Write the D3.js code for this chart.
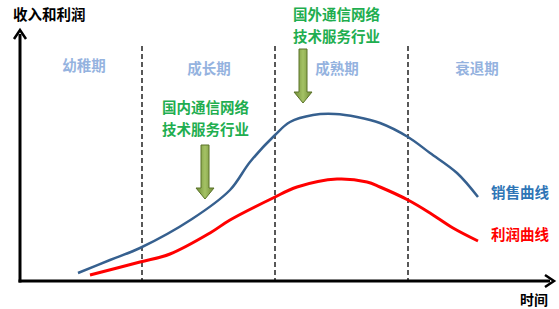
<!DOCTYPE html>
<html>
<head>
<meta charset="utf-8">
<script src="https://cdn.jsdelivr.net/npm/d3@7"></script>
<style>
  html, body { margin: 0; padding: 0; background: #fff; }
  svg { display: block; }
  text { font-family: "Noto Sans CJK SC", "Noto Sans", sans-serif; font-weight: bold; }
</style>
</head>
<body>
<div id="chart"></div>
<script>
// time runs 0..534, value 0..251 (arbitrary units)
const salesTime = [58, 90, 120, 172, 210, 230, 255, 270, 293, 315, 337, 360, 388, 410, 437, 458];
const salesValue = [8, 21, 33, 62, 91, 119, 146, 159, 166, 167, 164, 158, 144, 128, 108, 84];
const profitTime = [70, 120, 150, 190, 210, 253, 277, 317, 347, 360, 388, 410, 433, 458];
const profitValue = [6, 19, 27, 48, 61, 83, 94, 102, 99, 94, 81, 68, 53, 40];
const phaseBounds = [122, 255, 388];
const phaseNames = ['幼稚期', '成长期', '成熟期', '衰退期'];
const phaseLabelTime = [64, 189, 317, 457];
const industryNotes = [
  { lines: ['国内通信网络', '技术服务行业'], textTime: 142, arrowTime: 185, textTop: 108, arrowFrom: 145, arrowTo: 199 },
  { lines: ['国外通信网络', '技术服务行业'], textTime: 273, arrowTime: 283, textTop: 15, arrowFrom: 49, arrowTo: 103 }
];

const width = 559, height = 309;
const svg = d3.select('#chart').append('svg').attr('width', width).attr('height', height);

const x = d3.scaleLinear().domain([0, 534]).range([20, 554]);
const y = d3.scaleLinear().domain([0, 251]).range([281, 30]);

const defs = svg.append('defs');
const grad = defs.append('linearGradient').attr('id', 'arrowGrad').attr('x1', 0).attr('x2', 1);
grad.append('stop').attr('offset', '0%').attr('stop-color', '#6e8a34');
grad.append('stop').attr('offset', '50%').attr('stop-color', '#a4c265');
grad.append('stop').attr('offset', '100%').attr('stop-color', '#6e8a34');

// dashed phase separators
svg.selectAll('line.phase')
  .data(phaseBounds)
  .join('line')
  .attr('class', 'phase')
  .attr('x1', d => x(d)).attr('x2', d => x(d))
  .attr('y1', 46).attr('y2', y(0))
  .attr('stroke', '#222').attr('stroke-width', 1.5)
  .attr('stroke-dasharray', '5,3');

// phase labels
svg.selectAll('text.phaseName')
  .data(phaseNames)
  .join('text')
  .attr('class', 'phaseName')
  .attr('x', (d, i) => x(phaseLabelTime[i]))
  .attr('y', (d, i) => i === 0 ? 71 : 74)
  .attr('text-anchor', 'middle')
  .attr('font-size', '14.5px')
  .attr('fill', '#95b3df')
  .text(d => d);

// axes
const axisG = svg.append('g');
axisG.append('line')
  .attr('x1', x(0)).attr('x2', x(0))
  .attr('y1', y(0) + 1.5).attr('y2', y(251) + 4)
  .attr('stroke', '#000').attr('stroke-width', 3);
axisG.append('line')
  .attr('x1', x(0) - 1.5).attr('x2', x(534) - 4)
  .attr('y1', y(0)).attr('y2', y(0))
  .attr('stroke', '#000').attr('stroke-width', 3);
// arrowheads
axisG.append('path')
  .attr('d', `M${x(0) - 6},${y(251) + 9} L${x(0)},${y(251)} L${x(0) + 6},${y(251) + 9}`)
  .attr('fill', 'none').attr('stroke', '#000').attr('stroke-width', 2.5);
axisG.append('path')
  .attr('d', `M${x(534) - 9},${y(0) - 6} L${x(534)},${y(0)} L${x(534) - 9},${y(0) + 6}`)
  .attr('fill', 'none').attr('stroke', '#000').attr('stroke-width', 2.5);

svg.append('text')
  .attr('x', 13).attr('y', 20)
  .attr('font-size', '14.5px').attr('fill', '#000')
  .text('收入和利润');
svg.append('text')
  .attr('x', 520).attr('y', 305)
  .attr('font-size', '14px').attr('fill', '#000')
  .text('时间');

// curves
const line = d3.line()
  .x(d => x(d[0]))
  .y(d => y(d[1]))
  .curve(d3.curveCatmullRom.alpha(0.5));

svg.append('path')
  .datum(salesTime.map((t, i) => [t, salesValue[i]]))
  .attr('d', line)
  .attr('fill', 'none').attr('stroke', '#36608f').attr('stroke-width', 2.5);

svg.append('path')
  .datum(profitTime.map((t, i) => [t, profitValue[i]]))
  .attr('d', line)
  .attr('fill', 'none').attr('stroke', '#ff0000').attr('stroke-width', 3);

svg.append('text')
  .attr('x', 491).attr('y', 198)
  .attr('font-size', '14.5px').attr('fill', '#2e75b6')
  .text('销售曲线');
svg.append('text')
  .attr('x', 491).attr('y', 240)
  .attr('font-size', '14.5px').attr('fill', '#ff0000')
  .text('利润曲线');

// industry notes with block arrows
industryNotes.forEach(n => {
  const g = svg.append('g');
  n.lines.forEach((l, i) => {
    g.append('text')
      .attr('x', x(n.textTime)).attr('y', n.textTop + 5 + i * 22)
      .attr('font-size', '14.5px').attr('fill', '#1fae50')
      .text(l);
  });
  const headH = 11, shaftW = 4, headW = 9;
  const headY = n.arrowTo - headH;
  const ax = x(n.arrowTime);
  g.append('path')
    .attr('d', `M${ax - shaftW},${n.arrowFrom} L${ax + shaftW},${n.arrowFrom} L${ax + shaftW},${headY}
      L${ax + headW},${headY} L${ax},${n.arrowTo} L${ax - headW},${headY} L${ax - shaftW},${headY} Z`)
    .attr('fill', 'url(#arrowGrad)')
    .attr('stroke', '#5a7228').attr('stroke-width', 1);
});
</script>
</body>
</html>
